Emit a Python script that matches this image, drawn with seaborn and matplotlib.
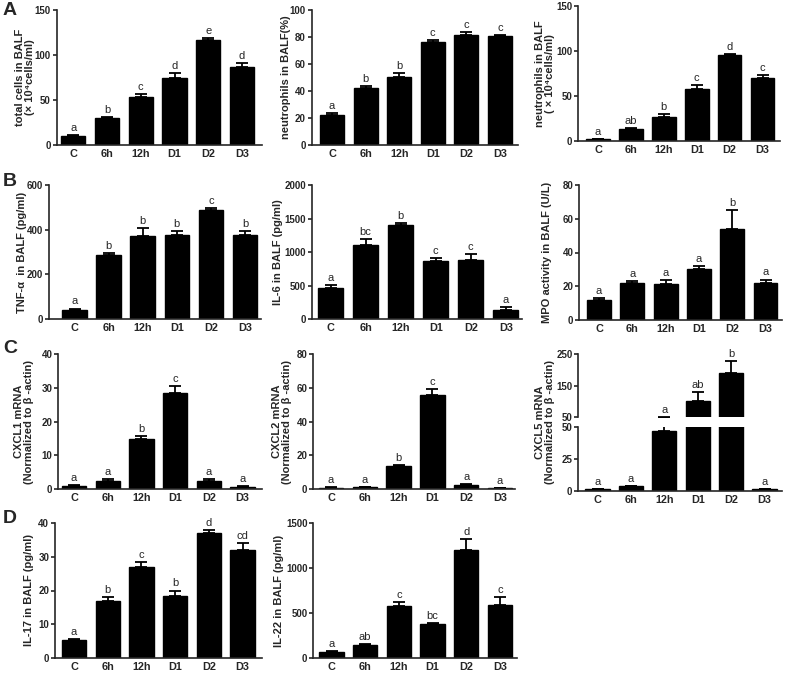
import matplotlib
matplotlib.use("Agg")
import matplotlib.pyplot as plt
import seaborn as sns
import numpy as np

# ---------------- data ----------------
categories = ['C', '6h', '12h', 'D1', 'D2', 'D3']

total_cells = [10, 30, 53, 75, 117, 87]
total_cells_err = [1, 1.5, 4, 5, 1.5, 4]
total_cells_sig = ['a', 'b', 'c', 'd', 'e', 'd']

neut_pct = [22, 42.5, 50.5, 76.5, 81.5, 81]
neut_pct_err = [2, 1.5, 3, 1.5, 2, 0.5]
neut_pct_sig = ['a', 'b', 'b', 'c', 'c', 'c']

neut_num = [2, 13, 27, 57.5, 95.5, 70]
neut_num_err = [0.5, 1, 2.5, 4.5, 1, 3]
neut_num_sig = ['a', 'ab', 'b', 'c', 'd', 'c']

tnf = [42, 285, 370, 375, 490, 378]
tnf_err = [5, 12, 38, 18, 5, 15]
tnf_sig = ['a', 'b', 'b', 'b', 'c', 'b']

il6 = [465, 1110, 1400, 870, 885, 130]
il6_err = [40, 80, 35, 45, 80, 50]
il6_sig = ['a', 'bc', 'b', 'c', 'c', 'a']

mpo = [12, 22, 21.5, 30.5, 54, 22]
mpo_err = [1, 1, 2, 1.5, 11, 2]
mpo_sig = ['a', 'a', 'a', 'a', 'b', 'a']

cxcl1 = [1, 2.5, 15, 28.5, 2.5, 0.7]
cxcl1_err = [0.2, 0.4, 0.8, 2, 0.4, 0.2]
cxcl1_sig = ['a', 'a', 'b', 'c', 'a', 'a']

cxcl2 = [1, 1.2, 13.5, 56, 2.5, 0.8]
cxcl2_err = [0.2, 0.3, 0.7, 3.5, 0.4, 0.2]
cxcl2_sig = ['a', 'a', 'b', 'c', 'a', 'a']

cxcl5 = [1, 3.5, 47, 100, 189, 1]
cxcl5_err = [0.2, 0.3, 5, 30, 40, 0.2]
cxcl5_sig = ['a', 'a', 'a', 'ab', 'b', 'a']

il17 = [5.5, 17, 26.8, 18.5, 37, 32]
il17_err = [0.3, 1, 1.5, 1.5, 0.8, 2]
il17_sig = ['a', 'b', 'c', 'b', 'd', 'cd']

il22 = [70, 145, 575, 375, 1200, 595]
il22_err = [10, 15, 50, 15, 115, 85]
il22_sig = ['a', 'ab', 'c', 'bc', 'd', 'c']

# ---------------- style ----------------
sns.set_style("ticks")
plt.rcParams['font.family'] = ['Liberation Sans', 'DejaVu Sans']
plt.rcParams['axes.linewidth'] = 1.2

W, H = 787, 674
fig = plt.figure(figsize=(W / 100, H / 100), dpi=100)


def add_ax(l, r, t, b):
    return fig.add_axes([l / W, 1 - b / H, (r - l) / W, (b - t) / H])


def style_ax(ax, l, r, c0, c5, ylim, yticks, show_x=True):
    s = (c5 - c0) / 5.0
    ax.set_xlim(-(c0 - l) / s, 5 + (r - c5) / s)
    ax.set_ylim(*ylim)
    ax.set_yticks(yticks)
    ax.set_yticklabels([str(t) for t in yticks], fontsize=7, fontweight='bold')
    sns.despine(ax=ax)
    ax.tick_params(axis='y', direction='out', length=3, width=1.2, pad=1.2)
    if show_x:
        ax.tick_params(axis='x', length=0, pad=3)
        for lab in ax.get_xticklabels():
            lab.set_fontsize(7.8)
            lab.set_fontweight('bold')
    else:
        ax.spines['bottom'].set_visible(False)
        ax.tick_params(axis='x', length=0, labelbottom=False)
    ax.set_xlabel('')


def draw_bars(ax, vals, errs):
    sns.barplot(x=categories, y=vals, order=categories, color='black',
                saturation=1, width=0.72, errorbar=None, edgecolor='black',
                linewidth=1, ax=ax)
    ax.errorbar(np.arange(len(vals)), vals, yerr=[np.zeros(len(vals)), errs],
                fmt='none', ecolor='black', elinewidth=1.3, capsize=4.5,
                capthick=1.3)


def add_sig(ax, vals, errs, sigs, idx=None):
    for i, (v, e, s) in enumerate(zip(vals, errs, sigs)):
        if idx is not None and i not in idx:
            continue
        ax.annotate(s, (i, v + e), xytext=(0, 1.5), textcoords='offset points',
                    ha='center', va='bottom', fontsize=8)


panels = [
    # l, r, t, b, c0, c5, vals, errs, sigs, ylim, yticks, ylabel, label-x
    (56.7, 262, 10, 145, 73.3, 242, total_cells, total_cells_err, total_cells_sig,
     (0, 150), [0, 50, 100, 150], 'total cells in BALF\n(× 10⁴cells/ml)', 25),
    (311.7, 518, 10, 145, 332, 500, neut_pct, neut_pct_err, neut_pct_sig,
     (0, 100), [0, 20, 40, 60, 80, 100], 'neutrophils in BALF(%)', 286),
    (578.3, 780, 6, 141, 598, 762.5, neut_num, neut_num_err, neut_num_sig,
     (0, 150), [0, 50, 100, 150], 'neutrophils in BALF\n( × 10⁴cells/ml)', 545),
    (49, 261, 185, 319, 74.5, 245, tnf, tnf_err, tnf_sig,
     (0, 600), [0, 200, 400, 600], 'TNF-α  in BALF (pg/ml)', 22),
    (311.7, 521.7, 185, 319, 330.5, 505.8, il6, il6_err, il6_sig,
     (0, 2000), [0, 500, 1000, 1500, 2000], 'IL-6 in BALF (pg/ml)', 278),
    (579.3, 781.7, 185, 320, 599, 765.5, mpo, mpo_err, mpo_sig,
     (0, 80), [0, 20, 40, 60, 80], 'MPO activity in BALF (U/L)', 547),
    (58.3, 262, 354, 489.3, 74, 242.5, cxcl1, cxcl1_err, cxcl1_sig,
     (0, 40), [0, 10, 20, 30, 40], 'CXCL1 mRNA\n(Normalized to β -actin)', 24),
    (313.3, 515, 354, 489.3, 331, 500, cxcl2, cxcl2_err, cxcl2_sig,
     (0, 80), [0, 20, 40, 60, 80], 'CXCL2 mRNA\n(Normalized to β -actin)', 282),
    (55, 262, 522.7, 658.3, 74, 242.5, il17, il17_err, il17_sig,
     (0, 40), [0, 10, 20, 30, 40], 'IL-17 in BALF (pg/ml)', 29),
    (313.3, 516.7, 522.7, 658.3, 331.5, 500, il22, il22_err, il22_sig,
     (0, 1500), [0, 500, 1000, 1500], 'IL-22 in BALF (pg/ml)', 279),
]

for (l, r, t, b, c0, c5, vals, errs, sigs, ylim, yticks, ylabel, lx) in panels:
    ax = add_ax(l, r, t, b)
    draw_bars(ax, vals, errs)
    style_ax(ax, l, r, c0, c5, ylim, yticks)
    add_sig(ax, vals, errs, sigs)
    ax.set_ylabel(ylabel, fontsize=8, fontweight='bold',
                  multialignment='center', linespacing=1.05)
    ax.yaxis.label.set_va('center')
    ax.yaxis.set_label_coords((lx - l) / (r - l), 0.5)

# ---- CXCL5 broken axis ----
l, r, c0, c5 = 578.3, 781.7, 597.5, 764.5
ax_top = add_ax(l, r, 354, 417.3)
ax_bot = add_ax(l, r, 427.3, 490.7)
for ax_ in (ax_top, ax_bot):
    draw_bars(ax_, cxcl5, cxcl5_err)
style_ax(ax_top, l, r, c0, c5, (50, 250), [50, 150, 250], show_x=False)
style_ax(ax_bot, l, r, c0, c5, (0, 50), [0, 25, 50])
top_idx = [i for i, (v, e) in enumerate(zip(cxcl5, cxcl5_err)) if v + e > 50]
bot_idx = [i for i in range(len(cxcl5)) if i not in top_idx]
add_sig(ax_top, cxcl5, cxcl5_err, cxcl5_sig, top_idx)
add_sig(ax_bot, cxcl5, cxcl5_err, cxcl5_sig, bot_idx)
ax_top.set_ylabel('')
ax_bot.set_ylabel('')
fig.text(545 / W, 1 - 422 / H, 'CXCL5 mRNA\n(Normalized to β -actin)',
         rotation=90, ha='center', va='center', fontsize=8,
         fontweight='bold', multialignment='center', linespacing=1.05)

# ---- panel letters ----
for letter, y in [('A', 2), ('B', 173), ('C', 340), ('D', 510)]:
    fig.text(3 / W, 1 - y / H, letter, fontsize=14, fontweight='bold',
             ha='left', va='top')

fig.savefig('out.png', dpi=100)
